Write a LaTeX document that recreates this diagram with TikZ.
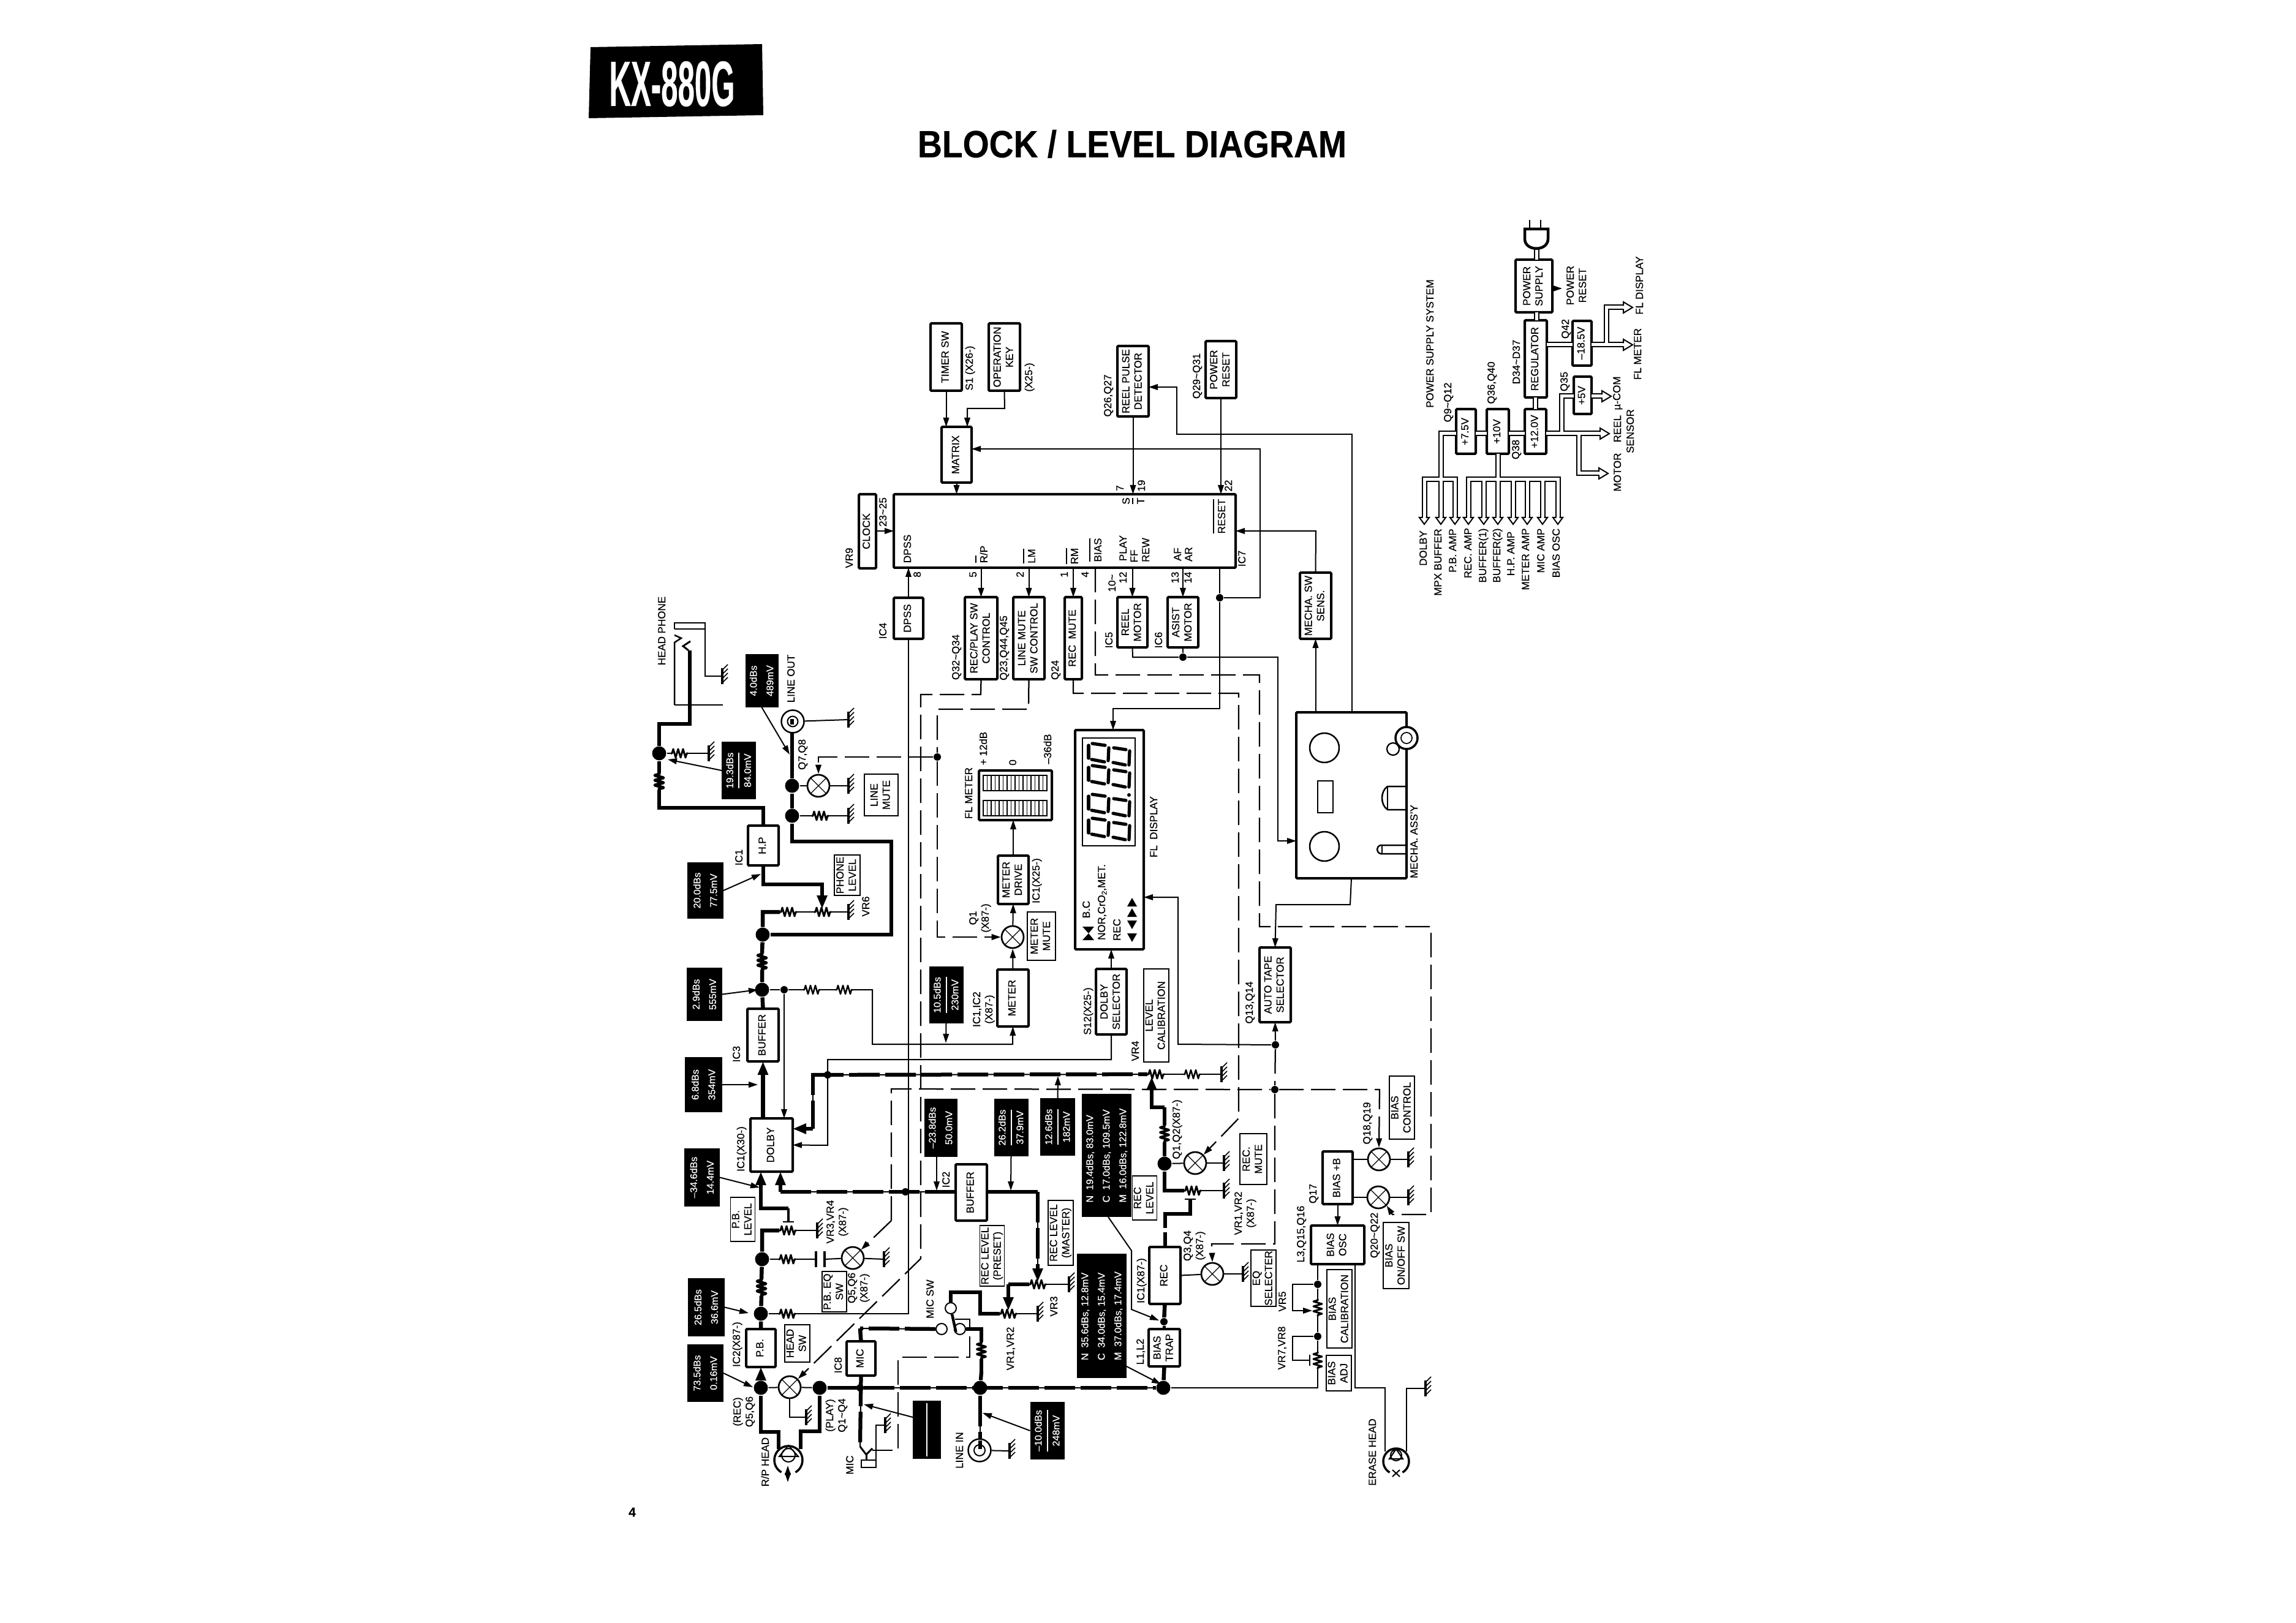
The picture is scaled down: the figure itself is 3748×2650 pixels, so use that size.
\documentclass[tikz,border=0pt]{standalone}
\usepackage{fontspec}
\usepackage{graphicx}
\setmainfont[FakeBold=0.4]{Liberation Sans}
\usetikzlibrary{arrows.meta,calc}
\newcommand{\ft}{\fontsize{3.4}{4}\selectfont}
\newcommand{\fb}{\fontsize{3.2}{5.4}\selectfont}
\newcommand{\rt}[1]{\rotatebox{90}{\begin{tabular}{@{}c@{}}#1\end{tabular}}}
\newcommand{\rtl}[1]{\rotatebox{90}{\begin{tabular}{@{}l@{}}#1\end{tabular}}}
\newcommand{\ovl}[1]{$\overline{\hbox{#1}}$}
\newcommand{\tld}{\textasciitilde}
\newcommand{\Bx}[7]{\node[#1,minimum width={(#5-#3)*0.2pt},minimum height={(#6-#4)*0.2pt}] (#2) at ({(#3+#5)/2},{(#4+#6)/2}) {\rt{#7}};}
\newcommand{\Bk}[7]{\node[#1,minimum width={(#5-#3)*0.2pt},minimum height={(#6-#4)*0.2pt}] (#2) at ({(#3+#5)/2},{(#4+#6)/2}) {\rtl{#7}};}
\newcounter{tc}
\newcommand{\Tx}[3]{\stepcounter{tc}\node[lbl] (t\arabic{tc}) at (#1,#2) {\rt{#3}};}
\newcommand{\Rh}[4]{\coordinate (#1a) at (#2-14,#3); \coordinate (#1b) at (#2+14,#3); \draw[line width=#4,line join=round] (#1a) -- ++(2,0) -- ++(2,-7) -- ++(4,14) -- ++(4,-14) -- ++(4,14) -- ++(4,-14) -- ++(4,14) -- ++(2,-7) -- ++(2,0);}
\newcommand{\Rv}[4]{\coordinate (#1a) at (#2,#3-14); \coordinate (#1b) at (#2,#3+14); \draw[line width=#4,line join=round] (#1a) -- ++(0,2) -- ++(-7,2) -- ++(14,4) -- ++(-14,4) -- ++(14,4) -- ++(-14,4) -- ++(14,4) -- ++(-7,2) -- ++(0,2);}
\newcommand{\Gd}[3]{\coordinate (#1) at (#2,#3); \draw[line width=.75pt] (#2,#3-13) -- (#2,#3+13); \foreach \d in {-10,-3,4,11} {\draw[line width=.3pt] (#2,#3+\d) -- ++(9,-9);}}
\newcommand{\Sw}[3]{\node[swc] (#1) at (#2,#3) {}; \draw[line width=.25pt] (#1.45) -- (#1.225) (#1.135) -- (#1.315);}
\newcommand{\HD}[2]{\filldraw[fill=white,line width=.4pt] (#1-2.5,#2) -- (#1-8,#2) -- (#1,#2+11) -- (#1+8,#2) -- (#1+2.5,#2);}
\newcommand{\HR}[2]{\filldraw[fill=white,line width=.4pt] (#1,#2-2.5) -- (#1,#2-9) -- (#1+15,#2) -- (#1,#2+9) -- (#1,#2+2.5);}
\newcommand{\Hd}[3]{\draw[line width=.7pt] (#1,#2) ++(120:#3) arc[start angle=120,end angle=420,radius=#3];}
\tikzset{
 box/.style={draw,line width=.8pt,fill=white,outer sep=0pt,inner sep=0pt,rounded corners=.3pt,font=\ft},
 lab/.style={draw,line width=.25pt,fill=white,outer sep=0pt,inner sep=0pt,font=\ft},
 blk/.style={fill=black,text=white,outer sep=0pt,inner sep=0pt,font=\fb},
 lbl/.style={inner sep=0pt,outer sep=0pt,font=\ft},
 wire/.style={line width=.4pt},
 thk/.style={line width=1.3pt,line join=miter},
 dsh/.style={line width=.45pt,dash pattern=on 8pt off 2.4pt},
 tdash/.style={line width=1.25pt,dash pattern=on 10pt off 1.8pt,preaction={draw,line width=.4pt,solid}},
 dot/.style={circle,fill=black,inner sep=0pt,minimum size=2.4pt},
 bdot/.style={circle,fill=black,inner sep=0pt,minimum size=4.6pt},
 swc/.style={circle,draw,fill=white,line width=.55pt,minimum size=7.2pt,inner sep=0pt},
 cnt/.style={circle,draw,fill=white,line width=.4pt,minimum size=3.6pt,inner sep=0pt},
 jck/.style={circle,draw,fill=white,line width=.5pt,minimum size=7.4pt,inner sep=0pt},
 >={Triangle[length=3pt,width=1.9pt]},
 ta/.style={-{Triangle[length=4.4pt,width=3.2pt]}}
}
\begin{document}
\begin{tikzpicture}[x=0.2pt,y=-0.2pt]
\useasboundingbox (0,0) rectangle (3748,2650);
\fill[white] (0,0) rectangle (3748,2650);
% header
\fill[black] (964,77) -- (1244,72) -- (1246,188) -- (961,193) -- cycle;
\node[inner sep=0pt,text=white] (kx) at (1097,137) {\resizebox{41pt}{14.6pt}{\bfseries KX-880G}};
\node[inner sep=0pt] (title) at (1848,235) {\resizebox{140pt}{9pt}{\bfseries BLOCK / LEVEL DIAGRAM}};
\node[inner sep=0pt,font=\fontsize{4.2}{5}\selectfont\bfseries] (pg) at (1032,2469) {4};
% blocks
\Bx{box}{dolby}{1225}{1826}{1294}{1913}{DOLBY}
\Bx{box}{buf2}{1560}{1901}{1611}{1993}{BUFFER}
\Bx{box}{pb}{1218}{2170}{1266}{2232}{P.B.}
\Bx{box}{mic}{1382}{2190}{1429}{2246}{MIC}
\Bx{box}{rec}{1876}{2036}{1927}{2129}{REC}
\Bx{box}{btrap}{1875}{2170}{1926}{2231}{BIAS\\TRAP}
\Bx{box}{bplus}{2159}{1880}{2208}{1966}{BIAS +B}
\Bx{box}{bosc}{2140}{2001}{2227}{2064}{BIAS\\OSC}
\Bx{box}{hp}{1221}{1348}{1271}{1413}{H.P}
\Bx{box}{buf3}{1220}{1647}{1271}{1733}{BUFFER}
\Bx{box}{dpss}{1459}{976}{1507}{1043}{DPSS}
\Bx{box}{rpc}{1575}{975}{1628}{1109}{REC/PLAY SW\\CONTROL}
\Bx{box}{lmc}{1654}{975}{1705}{1109}{LINE MUTE\\SW CONTROL}
\Bx{box}{rmc}{1738}{975}{1766}{1109}{REC\ \ MUTE}
\Bx{box}{rmot}{1824}{975}{1873}{1057}{REEL\\MOTOR}
\Bx{box}{amot}{1906}{975}{1956}{1057}{ASIST\\MOTOR}
\Bx{box}{msw}{2122}{935}{2173}{1043}{MECHA. SW\\SENS.}
\Bx{box}{mdrv}{1629}{1397}{1679}{1476}{METER\\DRIVE}
\Bx{box}{meter}{1628}{1583}{1679}{1676}{METER}
\Bx{box}{flm}{1598}{1258}{1717}{1339}{}
\Bx{box}{dsel}{1789}{1582}{1839}{1689}{DOLBY\\SELECTOR}
\Bx{box}{auto}{2056}{1547}{2107}{1669}{AUTO TAPE\\SELECTOR}
\Bx{box}{timer}{1519}{528}{1570}{638}{TIMER SW}
\Bx{box}{opkey}{1614}{528}{1665}{638}{OPERATION\\KEY}
\Bx{box}{mtx}{1537}{697}{1586}{788}{MATRIX}
\Bx{box}{clock}{1402}{807}{1430}{928}{CLOCK}
\Bx{box}{reel}{1824}{565}{1875}{680}{REEL PULSE\\DETECTOR}
\Bx{box}{prst}{1968}{557}{2018}{650}{POWER\\RESET}
\Bx{box}{ic}{1459}{807}{2017}{927}{}
\Bx{box}{fld}{1755}{1192}{1867}{1550}{}
\Bx{box}{mech}{2116}{1163}{2296}{1434}{}
\Bx{box}{psu}{2474}{424}{2534}{510}{POWER\\SUPPLY}
\Bx{box}{reg}{2489}{523}{2525}{649}{REGULATOR}
\Bx{box}{vm}{2567}{524}{2598}{597}{–18.5V}
\Bx{box}{vf}{2569}{615}{2598}{676}{+5V}
\Bx{box}{vt}{2489}{668}{2524}{741}{+12.0V}
\Bx{box}{vx}{2427}{668}{2463}{741}{+10V}
\Bx{box}{vs}{2377}{668}{2409}{741}{+7.5V}
% thin label boxes
\Bx{lab}{lrl}{1850}{1920}{1887}{1992}{REC\\LEVEL}
\Bx{lab}{lrm}{1711}{1960}{1752}{2066}{REC LEVEL\\(MASTER)}
\Bx{lab}{lrp}{1600}{2001}{1639}{2100}{REC LEVEL\\(PRESET)}
\Bx{lab}{lrmu}{2024}{1851}{2068}{1934}{REC.\\MUTE}
\Bx{lab}{leq}{2042}{2041}{2083}{2133}{EQ\\SELECTER}
\Bx{lab}{lbc}{2268}{1757}{2309}{1860}{BIAS\\CONTROL}
\Bx{lab}{lbo}{2258}{1996}{2300}{2104}{BIAS\\ON/OFF SW}
\Bx{lab}{lbca}{2166}{2073}{2207}{2201}{BIAS\\CALIBRATION}
\Bx{lab}{lba}{2165}{2213}{2206}{2271}{BIAS\\ADJ}
\Bx{lab}{lpb}{1194}{1955}{1231}{2027}{P.B.\\LEVEL}
\Bx{lab}{lpe}{1342}{2076}{1382}{2142}{P.B. EQ\\SW}
\Bx{lab}{lhs}{1281}{2163}{1322}{2224}{HEAD\\SW}
\Bx{lab}{llm}{1411}{1264}{1466}{1332}{LINE\\MUTE}
\Bx{lab}{lph}{1362}{1396}{1404}{1462}{PHONE\\LEVEL}
\Bx{lab}{lmm}{1677}{1489}{1723}{1568}{METER\\MUTE}
\Bx{lab}{lcal}{1867}{1582}{1908}{1734}{LEVEL\\CALIBRATION}
% black level boxes
\Bx{blk}{b34}{1117}{1875}{1175}{1970}{–34.6dBs\\14.4mV}
\Bx{blk}{b26}{1123}{2087}{1183}{2182}{26.5dBs\\36.6mV}
\Bx{blk}{b73}{1122}{2195}{1181}{2289}{73.5dBs\\0.16mV}
\node[blk,minimum width=9.2pt,minimum height=19pt] (bmic) at (1513,2334.5) {};
\Bx{blk}{b23}{1509}{1794}{1562}{1889}{–23.8dBs\\50.0mV}
\Bx{blk}{b262}{1623}{1794}{1678}{1888}{26.2dBs\\\hline 37.9mV}
\Bx{blk}{b12}{1698}{1793}{1755}{1887}{12.6dBs\\\hline 182mV}
\Bk{blk}{b19}{1767}{1786}{1845}{1987}{N\ \ 19.4dBs,\ 83.0mV\\C\ \ 17.0dBs,\ 109.5mV\\M\ \ 16.0dBs,\ 122.8mV}
\Bk{blk}{b35}{1758}{2047}{1838}{2250}{N\ \ 35.6dBs,\ 12.8mV\\C\ \ 34.0dBs,\ 15.4mV\\M\ \ 37.0dBs,\ 17.4mV}
\Bx{blk}{b10}{1682}{2289}{1737}{2383}{–10.0dBs\\\hline 248mV}
\Bx{blk}{b193}{1180}{1211}{1232}{1305}{19.3dBs\\\hline 84.0mV}
\Bx{blk}{b4}{1217}{1068}{1270}{1155}{4.0dBs\\489mV}
\Bx{blk}{b20}{1122}{1408}{1181}{1500}{20.0dBs\\77.5mV}
\Bx{blk}{b29}{1121}{1580}{1179}{1667}{2.9dBs\\555mV}
\Bx{blk}{b68}{1118}{1726}{1179}{1816}{6.8dBs\\354mV}
\Bx{blk}{b105}{1517}{1578}{1572}{1671}{10.5dBs\\\hline 230mV}
\draw[white,line width=.4pt] (1513,2291) -- (1513,2378);
% switches
\Sw{qh}{1289}{2265}
\Sw{q5}{1392}{2054}
\Sw{q1}{1951}{1899}
\Sw{q3}{1979}{2080}
\Sw{q18}{2251}{1893}
\Sw{q20}{2250}{1955}
\Sw{q7}{1336}{1283}
\Sw{qm}{1653}{1530}
% junctions
\node[bdot] (jrec) at (1242,2266) {};
\node[bdot] (jply) at (1338,2266) {};
\node[bdot] (j2145) at (1242,2145) {};
\node[bdot] (j2056) at (1244,2056) {};
\node[bdot] (jbus) at (1899,2266) {};
\node[bdot] (jli) at (1600,2266) {};
\node[bdot] (j1616) at (1244,1616) {};
\node[bdot] (j1526) at (1245,1526) {};
\node[dot] (j1280) at (1280,1616) {};
\node[bdot] (jhp) at (1076,1230) {};
\node[bdot] (j1283) at (1293,1283) {};
\node[bdot] (j1332) at (1293,1332) {};
\node[bdot] (j1900) at (1901,1900) {};
\node[dot] (jr) at (1991,976) {};
\node[dot] (jam) at (1931,1073) {};
\node[dot] (jlm) at (1530,1236) {};
\node[dot] (jat) at (2082,1706) {};
\node[dot] (jbc) at (2081,1779) {};
\node[dot] (j1478) at (1478,1946) {};
\node[dot] (jv1) at (2151,2097) {};
\node[dot] (jv2) at (2151,2182) {};
\node[dot] (j2158) at (1900,2158) {};
\node[dot] (j1351) at (1351,1755) {};
\node[dot] (j1404) at (1404,2266) {};
% passive parts
\Rh{ra}{1286}{2009}{.6pt}
\Rh{rb}{1285}{2056}{.6pt}
\Rh{rc}{1285}{2145}{.6pt}
\Rv{rd}{1243}{2102}{1pt}
\Rh{re}{1109}{1230}{.6pt}
\Rv{rf}{1076}{1276}{1pt}
\Rh{rg}{1287}{1489}{.6pt}
\Rh{rh}{1343}{1489}{.6pt}
\Rv{ri}{1244}{1570}{1pt}
\Rh{rj}{1339}{1332}{.6pt}
\Rh{rk}{1325}{1616}{.5pt}
\Rh{rl}{1378}{1616}{.5pt}
\Rh{rm}{1887}{1754}{.6pt}
\Rh{rn}{1946}{1754}{.5pt}
\Rv{ro}{1901}{1851}{.8pt}
\Rh{rp}{1947}{1944}{.6pt}
\Rh{rq}{1694}{2097}{.6pt}
\Rh{rr}{1646}{2145}{.6pt}
\Rv{rs}{1602}{2205}{.8pt}
\Rv{rt}{2151}{2135}{.6pt}
\Rv{ru}{2151}{2221}{.6pt}
\Gd{ga}{1334}{2009}
\Gd{gb}{1443}{2056}
\Gd{gc}{1316}{2314}
\Gd{gd}{1445}{2327}
\Gd{ge}{1648}{2369}
\Gd{gf}{1745}{2097}
\Gd{gg}{1694}{2145}
\Gd{gh}{1998}{1899}
\Gd{gi}{1998}{1944}
\Gd{gj}{1994}{1754}
\Gd{gk}{2029}{2080}
\Gd{gl}{2299}{1893}
\Gd{gm}{2299}{1955}
\Gd{gn}{2327}{2267}
\Gd{go}{1179}{1104}
\Gd{gp}{1157}{1230}
\Gd{gq}{1385}{1175}
\Gd{gr}{1385}{1283}
\Gd{gs}{1385}{1332}
\Gd{gt}{1385}{1489}
% ---- signal: playback side
\draw[thk] (jrec) -- (1242,2338) -- (1271,2338) -- (1271,2366);
\draw[thk] (jply) -- (1338,2337) -- (1307,2337) -- (1307,2366);
\draw[wire] (jrec) -- (qh) -- (jply);
\draw[wire] (qh) -- (1289,2314) -- (gc);
\draw[thk,ta] (jrec) -- (pb.south -| jrec);
\draw[thk] (pb.north -| j2145) -- (j2145) -- (1243,2116);
\draw[thk] (1243,2088) -- (j2056) -- (1244,2009) -- (raa);
\draw[wire] (rab) -- (ga);
\draw[line width=.8pt] (1287,1995) -- (1287,1973);
\draw[line width=.5pt] (1278,1995) -- (1296,1995);
\draw[thk,ta] (1287,1973) -- (1242,1973) -- (dolby.south -| 1242,1913);
\draw[wire] (j2056) -- (rba);
\draw[wire] (rbb) -- (1332,2056);
\draw[line width=.9pt] (1332,2043) -- (1332,2069) (1346,2043) -- (1346,2069);
\draw[wire] (1346,2056) -- (q5);
\draw[wire] (q5) -- (gb);
\draw[wire] (j2145) -- (rca);
\draw[wire] (rcb) -| (dpss.south);
% dolby / buffer
\draw[thk,ta] (dolby.north -| buf3.south) -- (buf3.south);
\draw[thk] (buf3.north) -- (j1616) -- (rib);
\draw[thk] (ria) -- (j1526) -- (1245,1489) -- (rga);
\draw[wire] (rgb) -- (rha);
\draw[wire] (rhb) -- (gt);
\draw[thk,ta] (hp.south -| 1246,1413) -- (1246,1444) -- (1342,1444) -- (1342,1484);
\draw[thk] (j1526) -- (1455,1526) -- (1455,1374) -- (1293,1374) -- (j1332) -- (j1283) -- (1293,1183);
\draw[wire] (j1332) -- (rja);
\draw[wire] (rjb) -- (gs);
\draw[wire] (j1283) -- (q7);
\draw[wire] (q7) -- (gr);
\draw[thk] (hp.north -| 1246,1348) -- (1246,1319) -- (1076,1319) -- (rfb);
\draw[thk] (rfa) -- (jhp) -- (1076,1182) -- (1126,1182) -- (1126,1062);
\draw[wire] (jhp) -- (rea);
\draw[wire] (reb) -- (gp);
% phone jack
\draw[line width=.5pt] (1101,1151) -- (1101,1049) -- (1112,1042) -- (1101,1037);
\draw[line width=.5pt] (1101,1027) -- (1101,1017) -- (1151,1017) -- (1151,1104) -- (go);
\draw[line width=.5pt] (1101,1027) -- (1151,1027);
\draw[wire] (1101,1151) -- (1180,1151);
\draw[line width=.6pt] (1127,1047) -- (1115,1055) -- (1124,1062);
% line out jack
\node[jck] (jo) at (1294,1178) {};
\node[circle,draw,line width=.4pt,minimum size=3.4pt,inner sep=0pt] (joi) at (1294,1178) {};
\draw[wire] (jo) -- (gq);
\draw[thk] (1293,1183) -- (1293,1174);
% thin signal
\draw[wire] (j1616) -- (j1280) -- (rka);
\draw[wire] (rkb) -- (rla);
\draw[wire,->] (rlb) -- (1424,1616) -- (1424,1705) -- (1653,1705) -- (meter.south);
\draw[wire,->] (j1280) -- (dolby.north -| j1280);
\draw[wire,->] (dsel.south) -- (1814,1730) -- (1351,1730) -- (1351,1870) -- (dolby.east);
\draw[tdash] (j1351) -- (1327,1755) -- (1327,1843);
\draw[thk,ta] (1327,1843) -- (1294,1843);
\draw[tdash] (1327,1755) -- (rma);
\draw[wire] (rmb) -- (rna);
\draw[wire] (rnb) -- (gj);
\draw[thk,ta] (1901,1808) -- (1880,1808) -- (1880,1758);
\draw[thk] (1901,1808) -- (roa);
\draw[thk] (rob) -- (j1900) -- (1901,1944) -- (rpa);
\draw[wire] (j1900) -- (q1);
\draw[wire] (q1) -- (gh);
\draw[wire] (rpb) -- (gi);
\draw[line width=.5pt] (1934,1958) -- (1952,1958);
\draw[thk] (1943,1958) -- (1943,1982) -- (1902,1982) -- (1902,2005);
\draw[thk] (1902,2012) -- (1902,2036);
\draw[thk] (rec.south) -- (j2158);
\draw[line width=1pt] (j2158) -- (btrap.north);
\draw[thk] (btrap.south) -- (jbus);
\draw[wire] (rec.east) -- (q3);
\draw[wire] (q3) -- (gk);
% dolby return / buffer
\draw[thk,ta] (1274,1946) -- (1274,1913);
\draw[tdash] (1274,1946) -- (buf2.west |- 1274,1946);
\draw[thk] (1611,1946) -- (1694,1946);
\draw[tdash] (1694,1946) -- (1694,2075);
\draw[thk,ta] (1694,2070) -- (1694,2093);
\draw[thk] (rqa) -- (1646,2097);
\draw[thk,ta] (1646,2097) -- (1646,2140);
\draw[wire] (rqb) -- (gf);
\draw[thk] (rra) -- (1600,2145) -- (1600,2110) -- (1552,2110) -- (1552,2128);
\draw[wire] (rrb) -- (gg);
% mic switch
\node[cnt] (ca) at (1552,2136) {};
\node[cnt] (cb) at (1537,2170) {};
\node[cnt] (cc) at (1567,2170) {};
\draw[line width=.9pt] (ca) -- (1560,2173) -- (cc);
\draw[thk] (cc) -- (1602,2170) -- (rsa);
\draw[thk] (rsb) -- (1602,2240);
\draw[tdash] (1602,2240) -- (jli);
\draw[tdash] (jli) -- (1600,2352);
\draw[tdash] (jply) -- (jbus);
\draw[tdash] (cb) -- (1404,2169);
\draw[thk] (1404,2169) -- (mic.north);
\draw[tdash] (mic.south) -- (1404,2362);
\draw[wire] (jbus) -- (2151,2266) -- (rub);
\draw[wire] (rua) -- (jv2) -- (rtb);
\draw[wire] (rta) -- (jv1) -- (bosc.south -| jv1);
\draw[wire,->] (jv1) -- (2110,2097) -- (2110,2140) -- (2142,2140);
\draw[wire] (jv2) -- (2110,2182) -- (2110,2221) -- (2138,2221);
\draw[line width=.5pt] (2138,2212) -- (2138,2230);
% mic jack
\draw[line width=.6pt] (1404,2362) -- (1414,2375) -- (1424,2365);
\draw[line width=.6pt] (1414,2375) -- (1414,2384);
\draw[line width=.5pt] (1406,2384) rectangle (1430,2396);
\draw[wire] (1430,2396) -- (1430,2327) -- (gd);
% line in jack
\node[jck] (ji) at (1599,2368) {};
\node[circle,draw,line width=.4pt,minimum size=3.6pt,inner sep=0pt] (jii) at (1599,2368) {};
\draw[wire] (ji) -- (ge);
\draw[thk] (1600,2352) -- (1600,2366);
% heads
\Hd{1287}{2384}{23}
\draw[wire] (1287,2360) -- (1272,2378) -- (1303,2378) -- cycle;
\node[circle,draw,line width=.4pt,minimum size=4.4pt,inner sep=0pt] (hrp) at (1287,2376) {};
\draw[wire,<->] (1286,2393) -- (1286,2420);
\Hd{2279}{2386}{21}
\draw[wire] (2279,2366) -- (2268,2382) -- (2290,2382) -- cycle;
\node[circle,draw,line width=.4pt,minimum size=3.6pt,inner sep=0pt] (her) at (2279,2376) {};
\draw[wire] (2273,2400) -- (2285,2411) (2285,2400) -- (2273,2411);
\draw[wire] (bosc.south -| 2212,2064) -- (2212,2266) -- (2261,2266) -- (2261,2370);
\draw[wire] (gn) -- (2296,2267) -- (2296,2370);
% bias
\draw[wire] (bplus.east |- q18) -- (q18);
\draw[wire] (q18) -- (gl);
\draw[wire] (bplus.east |- q20) -- (q20);
\draw[wire] (q20) -- (gm);
\draw[wire,->] (bplus.south) -- (bosc.north -| bplus.south);
% metering
\draw[wire,->] (meter.north) -- (qm);
\draw[wire,->] (qm) -- (mdrv.south);
\draw[wire,->] (mdrv.north) -- (flm.south -| mdrv.north);
% control dashed
\draw[dsh,->] (1455,1993) -- (1455,1778) -- (jbc) -- (2252,1779) -- (q18.north);
\draw[dsh,->] (1455,1993) -- (q5.45);
\draw[dsh,->] (rpc.south) -- (1601,1134) -- (1503,1134) -- (1503,2055) -- (qh.45);
\draw[dsh] (lmc.south) -- (1679,1158) -- (1530,1158) -- (jlm);
\draw[dsh,->] (jlm) -- (1336,1236) -- (q7.north);
\draw[dsh,->] (jlm) -- (1530,1530) -- (qm.west);
\draw[dsh,->] (rmc.south) -- (1752,1132) -- (2022,1132) -- (2022,1826) -- (q1.45);
\draw[dsh,->] (ic.south -| 1788,927) -- (1788,1102) -- (2056,1102) -- (2056,1513) -- (2336,1513) -- (2336,1983) -- (2273,1983) -- (q20.315);
\draw[dsh] (jat) -- (jbc);
\draw[dsh,->] (jbc) -- (2081,2031) -- (1978,2031) -- (q3.north);
\draw[dsh] (1559,2154) -- (1583,2154) -- (1583,2216) -- (1466,2216) -- (1466,2368) -- (1424,2368);
% control solid
\draw[wire,->] (timer.south) -- (mtx.north -| timer.south);
\draw[wire,->] (opkey.south) -- (1640,667) -- (1579,667) -- (1579,697);
\draw[wire,->] (mtx.south) -- (ic.north -| mtx.south);
\draw[wire,->] (reel.south) -- (ic.north -| reel.south);
\draw[wire,->] (prst.south) -- (ic.north -| prst.south);
\draw[wire,->] (clock.east |- 1430,867) -- (ic.west |- 1459,867);
\draw[wire,->] (dpss.north) -- (ic.south -| dpss.north);
\draw[wire,->] (ic.south -| rpc.north) -- (rpc.north);
\draw[wire,->] (ic.south -| lmc.north) -- (lmc.north);
\draw[wire,->] (ic.south -| rmc.north) -- (rmc.north);
\draw[wire,->] (ic.south -| rmot.north) -- (rmot.north);
\draw[wire,->] (ic.south -| amot.north) -- (amot.north);
\draw[wire] (ic.south -| jr) -- (jr);
\draw[wire,->] (jr) -- (2057,976) -- (2057,733) -- (1586,733);
\draw[wire,->] (jr) -- (1991,1157) -- (1817,1157) -- (1817,1192);
\draw[wire,->] (msw.north) -- (2148,867) -- (2017,867);
\draw[wire,->] (mech.north -| msw.south) -- (msw.south);
\draw[wire,->] (mech.north -| 2207,1163) -- (2207,709) -- (1921,709) -- (1921,632) -- (1875,632);
\draw[wire] (rmot.south) -- (1849,1073) -- (jam);
\draw[wire] (amot.south) -- (jam);
\draw[wire,->] (jam) -- (2086,1073) -- (2086,1373) -- (2116,1373);
\draw[wire,->] (mech.south) -- (2204,1477) -- (2083,1477) -- (auto.north);
\draw[wire,->] (jat) -- (auto.south);
\draw[wire,->] (jat) -- (1923,1705) -- (1923,1465) -- (1867,1465);
\draw[wire,->] (dsel.north) -- (fld.south -| dsel.north);
% level pointers
\draw[wire,->] (b34.east) -- (1240,1939);
\draw[wire,->] (b26.east) -- (1222,2144);
\draw[wire,->] (b73.east) -- (1229,2265);
\draw[wire,->] (b68.east) -- (1237,1771);
\draw[wire,->] (b29.east) -- (1237,1616);
\draw[wire,->] (b20.east) -- (1242,1427);
\draw[wire,->] (b193.west) -- (1090,1240);
\draw[wire,->] (b4.south) -- (1289,1232);
\draw[wire,->] (b105.south) -- (1544,1703);
\draw[wire,->] (1529,1889) -- (1529,1944);
\draw[wire,->] (b262.south) -- (1650,1944);
\draw[wire,->] (b12.north) -- (1727,1757);
\draw[wire,->] (1809,1987) -- (1847,2042) -- (1847,2138) -- (1892,2156);
\draw[wire,->] (1837,2230) -- (1895,2260);
\draw[wire,->] (b10.west) -- (1604,2307);
\draw[wire,->] (1490,2314) -- (1410,2293);
% mecha detail
\draw[line width=.5pt] (2162,1221) circle[radius=24];
\draw[line width=.5pt] (2162,1382) circle[radius=24];
\draw[line width=.45pt] (2151,1275) rectangle (2176,1327);
\draw[line width=.45pt,fill=white] (2274,1223) circle[radius=10];
\draw[line width=.7pt,fill=white] (2296,1205) circle[radius=18];
\draw[line width=.35pt] (2296,1205) circle[radius=9];
\draw[line width=.5pt] (2296,1284) -- (2265,1284) .. controls (2253,1292) and (2253,1314) .. (2265,1322) -- (2296,1322);
\draw[line width=.5pt] (2294,1380) -- (2254,1380) .. controls (2246,1382) and (2246,1392) .. (2254,1394) -- (2294,1394);
\draw[line width=.4pt] (2265,1284) -- (2265,1322) (2256,1380) -- (2256,1394);
% FL meter bars
\draw[line width=.45pt] (1605,1266) rectangle (1709,1291) (1605,1307) rectangle (1709,1332);
\foreach \i in {1,...,15} {\draw[line width=.3pt] ({1605+\i*6.5},1266) -- ++(0,25) ({1605+\i*6.5},1307) -- ++(0,25);}
% FL display
\draw[line width=.3pt] (1767,1205) rectangle (1853,1381);
\foreach \o in {0,36,83,122} {
 \begin{scope}[yshift=-\o*0.2pt,line width=1.05pt,line cap=round]
 \draw (1777,1217) -- (1777,1238);
 \draw (1783,1214) -- (1804,1217);
 \draw (1782,1240) -- (1803,1244);
 \draw (1810,1221) -- (1809,1242);
 \draw (1818,1221) -- (1838,1224);
 \draw (1817,1245) -- (1837,1249);
 \draw (1844,1226) -- (1843,1249);
 \end{scope}
}
\fill (1843,1298) circle[radius=3];
\fill (1767,1513) -- (1786,1513) -- (1777,1524) -- (1786,1535) -- (1767,1535) -- (1777,1524) -- cycle;
\fill (1848,1466) -- (1856,1480) -- (1840,1480) -- cycle;
\fill (1848,1483) -- (1856,1497) -- (1840,1497) -- cycle;
\fill (1848,1517) -- (1856,1503) -- (1840,1503) -- cycle;
\fill (1848,1538) -- (1856,1524) -- (1840,1524) -- cycle;
\Tx{1775}{1485}{B.C}
\Tx{1800}{1473}{NOR,CrO\raisebox{-.3ex}{\scalebox{.7}{2}},MET.}
\Tx{1825}{1518}{REC}
% IC7 interior
\Tx{1483}{896}{DPSS}
\Tx{1604}{905}{\ovl{R}/P}
\Tx{1682}{908}{\ovl{LM}}
\Tx{1752}{908}{\ovl{RM}}
\Tx{1790}{898}{\ovl{BIAS}}
\Tx{1835}{895}{PLAY}
\Tx{1853}{908}{FF}
\Tx{1872}{898}{REW}
\Tx{1924}{905}{AF}
\Tx{1942}{905}{AR}
\Tx{1840}{818}{S}
\Tx{1860}{818}{\ovl{T}}
\Tx{1992}{843}{\ovl{RESET}}
% pin numbers
\Tx{1830}{797}{7}
\Tx{1865}{793}{19}
\Tx{2007}{793}{22}
\Tx{1443}{836}{23\tld 25}
\Tx{1499}{938}{8}
\Tx{1590}{938}{5}
\Tx{1667}{938}{2}
\Tx{1739}{938}{1}
\Tx{1773}{938}{4}
\Tx{1817}{952}{10\tld}
\Tx{1835}{943}{12}
\Tx{1920}{943}{13}
\Tx{1941}{943}{14}
% part labels
\Tx{1211}{1876}{IC1(X30-)}
\Tx{1367}{1995}{VR3,VR4\\(X87-)}
\Tx{1402}{2103}{Q5,Q6\\(X87-)}
\Tx{1204}{2195}{IC2(X87-)}
\Tx{1215}{2305}{(REC)\\Q5,Q6}
\Tx{1366}{2311}{(PLAY)\\Q1\tld Q4}
\Tx{1251}{2387}{R/P HEAD}
\Tx{1389}{2392}{MIC}
\Tx{1568}{2368}{LINE IN}
\Tx{1520}{2121}{MIC SW}
\Tx{1370}{2229}{IC8}
\Tx{1546}{1926}{IC2}
\Tx{1922}{1844}{Q1,Q2(X87-)}
\Tx{2033}{1981}{VR1,VR2\\(X87-)}
\Tx{1950}{2034}{Q3,Q4\\(X87-)}
\Tx{1864}{2091}{IC1(X87-)}
\Tx{1863}{2207}{L1,L2}
\Tx{1651}{2202}{VR1,VR2}
\Tx{1722}{2133}{VR3}
\Tx{2095}{2125}{VR5}
\Tx{2094}{2201}{VR7,VR8}
\Tx{2125}{2015}{L3,Q15,Q16}
\Tx{2145}{1949}{Q17}
\Tx{2233}{1834}{Q18,Q19}
\Tx{2245}{2017}{Q20\tld Q22}
\Tx{2242}{2371}{ERASE HEAD}
\Tx{1082}{1030}{HEAD PHONE}
\Tx{1293}{1108}{LINE OUT}
\Tx{1311}{1232}{Q7,Q8}
\Tx{1208}{1400}{IC1}
\Tx{1415}{1480}{VR6}
\Tx{1204}{1721}{IC3}
\Tx{1443}{1030}{IC4}
\Tx{1562}{1073}{Q32\tld Q34}
\Tx{1640}{1058}{Q23,Q44,Q45}
\Tx{1724}{1094}{Q24}
\Tx{1600}{1499}{Q1\\(X87-)}
\Tx{1693}{1438}{IC1(X25-)}
\Tx{1606}{1648}{IC1,IC2\\(X87-)}
\Tx{1583}{1295}{FL METER}
\Tx{1607}{1222}{+ 12dB}
\Tx{1655}{1245}{0}
\Tx{1712}{1223}{–36dB}
\Tx{1885}{1350}{FL\ \ DISPLAY}
\Tx{2310}{1374}{MECHA. ASS'Y}
\Tx{1777}{1651}{S12(X25-)}
\Tx{1855}{1716}{VR4}
\Tx{2041}{1637}{Q13,Q14}
\Tx{1584}{601}{S1 (X26-)}
\Tx{1681}{616}{(X25-)}
\Tx{1810}{646}{Q26,Q27}
\Tx{1955}{614}{Q29\tld Q31}
\Tx{1388}{911}{VR9}
\Tx{2029}{912}{IC7}
\Tx{1812}{1045}{IC5}
\Tx{1893}{1045}{IC6}
% power supply wiring (double lines)
\def\pwp{(psu.north -| 2508,424) -- (2508,407) (psu.south -| 2508,510) -- (reg.north -| 2508,523) (reg.south -| 2506,649) -- (vt.north -| 2506,668)
 (reg.east |- 2525,563) -- (vm.west |- 2567,563) (vm.east |- 2598,563) -- (2650,563) (2622,563) -- (2622,502) -- (2650,502)
 (vf.east |- 2598,647) -- (2615,647)
 (vt.east |- 2524,708) -- (2612,708) (2577,708) -- (2577,773) -- (2610,773) (2549,708) -- (2549,647) -- (vf.west |- 2569,647)
 (vt.west |- 2489,708) -- (vx.east |- 2463,708) (vx.west |- 2427,708) -- (vs.east |- 2409,708) (vs.west |- 2377,708) -- (2352,708) -- (2352,783)
 (2325,845) -- (2325,783) -- (2375,783) -- (2375,845) (2352,783) -- (2352,845)
 (vx.south) -- (2445,783) (2397,845) -- (2397,783) -- (2543,783) -- (2543,845) (2422,783) -- (2422,845) (2445,783) -- (2445,845) (2470,783) -- (2470,845) (2493,783) -- (2493,845) (2518,783) -- (2518,845)}
\draw[line width=1.8pt] \pwp;
\draw[line width=1pt,white] \pwp;
\foreach \x in {2325,2352,2375,2397,2422,2445,2470,2493,2518,2543} {\HD{\x}{845}}
\HR{2650}{563}
\HR{2650}{502}
\HR{2615}{647}
\HR{2612}{708}
\HR{2610}{773}
\draw[wire,->] (psu.east |- 2534,471) -- (2550,471);
% plug
\draw[line width=.9pt,fill=white] (2489,374) -- (2489,390) .. controls (2489,411) and (2527,411) .. (2527,390) -- (2527,374) -- cycle;
\draw[line width=.5pt] (2497,359) -- (2497,374) (2515,359) -- (2515,374);
% power labels
\Tx{2336}{561}{POWER SUPPLY SYSTEM}
\Tx{2365}{657}{Q9\tld Q12}
\Tx{2436}{625}{Q36,Q40}
\Tx{2477}{591}{D34\tld D37}
\Tx{2476}{734}{Q38}
\Tx{2557}{537}{Q42}
\Tx{2555}{623}{Q35}
\Tx{2575}{466}{POWER\\RESET}
\Tx{2678}{466}{FL DISPLAY}
\Tx{2675}{578}{FL METER}
\Tx{2641}{642}{µ-COM}
\Tx{2642}{700}{REEL}
\Tx{2663}{704}{SENSOR}
\Tx{2642}{771}{MOTOR}
\Tx{2325}{895}{DOLBY}
\Tx{2349}{918}{MPX BUFFER}
\Tx{2373}{899}{P.B. AMP}
\Tx{2398}{903}{REC. AMP}
\Tx{2422}{907}{BUFFER(1)}
\Tx{2445}{907}{BUFFER(2)}
\Tx{2468}{904}{H.P. AMP}
\Tx{2492}{913}{METER AMP}
\Tx{2517}{899}{MIC AMP}
\Tx{2542}{903}{BIAS OSC}
\end{tikzpicture}
\end{document}
